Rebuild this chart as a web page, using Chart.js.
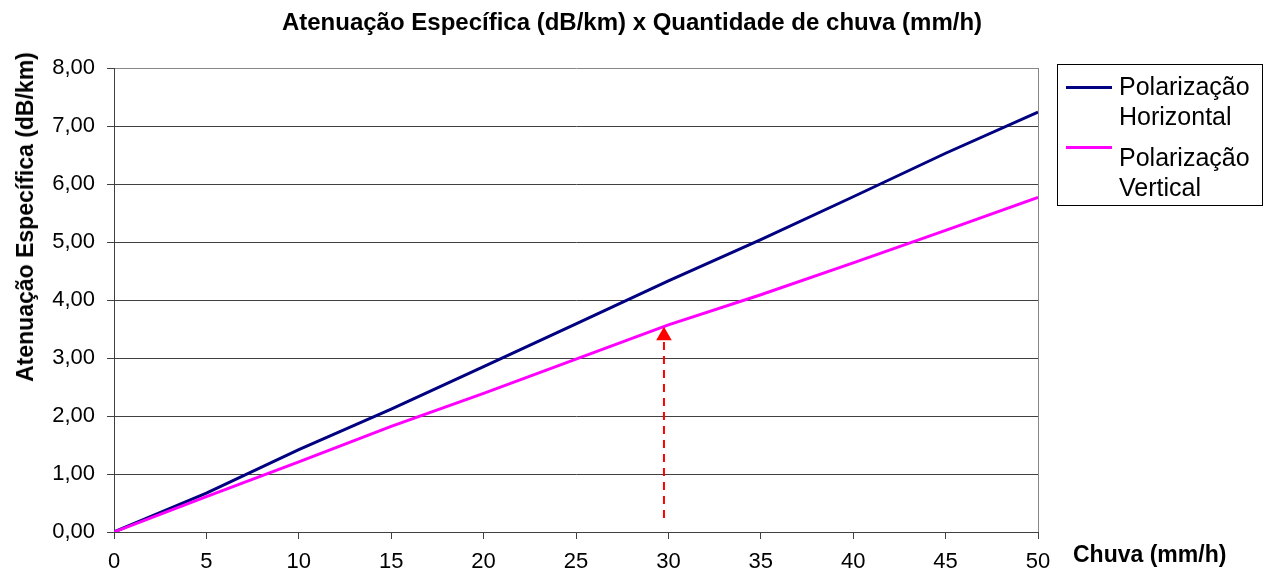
<!DOCTYPE html>
<html>
<head>
<meta charset="utf-8">
<script src="https://cdn.jsdelivr.net/npm/chart.js@4.4.1/dist/chart.umd.min.js"></script>
<style>
  body { margin: 0; background: #fff; }
  #wrap { position: relative; width: 1271px; height: 577px; font-family: 'Liberation Sans', Arial, sans-serif; color: #000; }
  #chart { position: absolute; left: 0; top: 0; }
  .txt { position: absolute; white-space: nowrap; }
  #title { top: 9.4px; left: 0; width: 1264px; text-align: center; font-weight: bold; font-size: 24px; line-height: 26px; }
  #ytitle { left: 25.3px; top: 216.5px; transform: translate(-50%, -50%) rotate(-90deg); font-weight: bold; font-size: 23px; line-height: 26px; }
  #xtitle { left: 1073px; top: 540.7px; font-weight: bold; font-size: 23px; line-height: 26px; }
  #legend { position: absolute; left: 1057px; top: 64px; width: 206px; height: 142px; box-sizing: border-box; border: 1px solid #000; }
  .swatch { position: absolute; height: 3px; width: 46px; }
  .lbl { position: absolute; font-size: 25px; line-height: 30px; white-space: pre; }
</style>
</head>
<body>
<div id="wrap">
  <canvas id="chart" width="1271" height="577"></canvas>
  <div id="title" class="txt">Atenuação Específica (dB/km) x Quantidade de chuva (mm/h)</div>
  <div id="ytitle" class="txt">Atenuação Específica (dB/km)</div>
  <div id="xtitle" class="txt">Chuva (mm/h)</div>
  <div id="legend"></div>
</div>
<script>
// rain rate (mm/h) and specific attenuation (dB/km)
const rainRate = [0, 5, 10, 15, 20, 25, 30, 35, 40, 45, 50];
const attenHorizontal = [0, 0.67, 1.42, 2.12, 2.85, 3.59, 4.33, 5.04, 5.78, 6.53, 7.24];
const attenVertical = [0, 0.61, 1.21, 1.82, 2.39, 2.98, 3.57, 4.09, 4.64, 5.20, 5.77];
const seriesNames = ['Polarização\nHorizontal', 'Polarização\nVertical'];
const seriesColors = ['#000080', '#FF00FF'];

// red dashed arrow marking ~30 mm/h on the vertical curve
const arrowX = [29.76, 29.76];
const arrowY = [0.24, 3.385];

const FONT = "'Liberation Sans', Arial, sans-serif";

function toPoints(xs, ys) {
  return xs.map((x, i) => ({ x: x, y: ys[i] }));
}

const chart = new Chart(document.getElementById('chart'), {
  type: 'line',
  data: {
    datasets: [
      {
        label: 'seta',
        data: toPoints(arrowX, arrowY),
        borderColor: '#FF0000',
        borderWidth: 2,
        borderDash: [8, 6],
        pointStyle: 'triangle',
        pointRadius: [0, 9],
        pointBackgroundColor: '#FF0000',
        pointBorderWidth: 0,
        order: 0
      },
      {
        label: seriesNames[0],
        data: toPoints(rainRate, attenHorizontal),
        borderColor: seriesColors[0],
        borderWidth: 3,
        pointRadius: 0,
        tension: 0,
        order: 2
      },
      {
        label: seriesNames[1],
        data: toPoints(rainRate, attenVertical),
        borderColor: seriesColors[1],
        borderWidth: 3,
        pointRadius: 0,
        tension: 0,
        order: 1
      }
    ]
  },
  options: {
    responsive: false,
    animation: false,
    layout: { padding: { top: 68, right: 233, left: 0, bottom: 0 } },
    plugins: {
      legend: { display: false },
      title: { display: false },
      tooltip: { enabled: false }
    },
    scales: {
      x: {
        type: 'linear',
        min: 0,
        max: 50,
        ticks: { stepSize: 5, color: '#000', font: { family: FONT, size: 22 }, padding: 10, maxRotation: 0 },
        grid: {
          color: c => (c.tick && c.tick.value === 50 ? '#888' : 'rgba(0,0,0,0)'),
          tickColor: '#404040',
          tickLength: 7
        },
        border: { color: '#404040' },
        afterFit: s => { s.height = 45; }
      },
      y: {
        min: 0,
        max: 8,
        ticks: {
          stepSize: 1,
          color: '#000',
          font: { family: FONT, size: 22 },
          padding: 12,
          callback: v => v.toFixed(2).replace('.', ',')
        },
        grid: {
          color: c => (c.tick && c.tick.value === 8 ? '#888' : '#404040'),
          tickColor: '#404040',
          tickLength: 7
        },
        border: { color: '#404040' },
        afterFit: s => { s.width = 114; }
      }
    }
  }
});

// legend box built from the two curves
const legend = document.getElementById('legend');
const swatchTops = [22, 82.7];
const labelTops = [6.3, 77];
chart.data.datasets.slice(1).forEach((ds, i) => {
  const sw = document.createElement('div');
  sw.className = 'swatch';
  sw.style.left = '8px';
  sw.style.top = (swatchTops[i] - 1.5) + 'px';
  sw.style.background = ds.borderColor;
  legend.appendChild(sw);
  const lb = document.createElement('div');
  lb.className = 'lbl';
  lb.style.left = '61px';
  lb.style.top = labelTops[i] + 'px';
  lb.textContent = ds.label;
  legend.appendChild(lb);
});
</script>
</body>
</html>
